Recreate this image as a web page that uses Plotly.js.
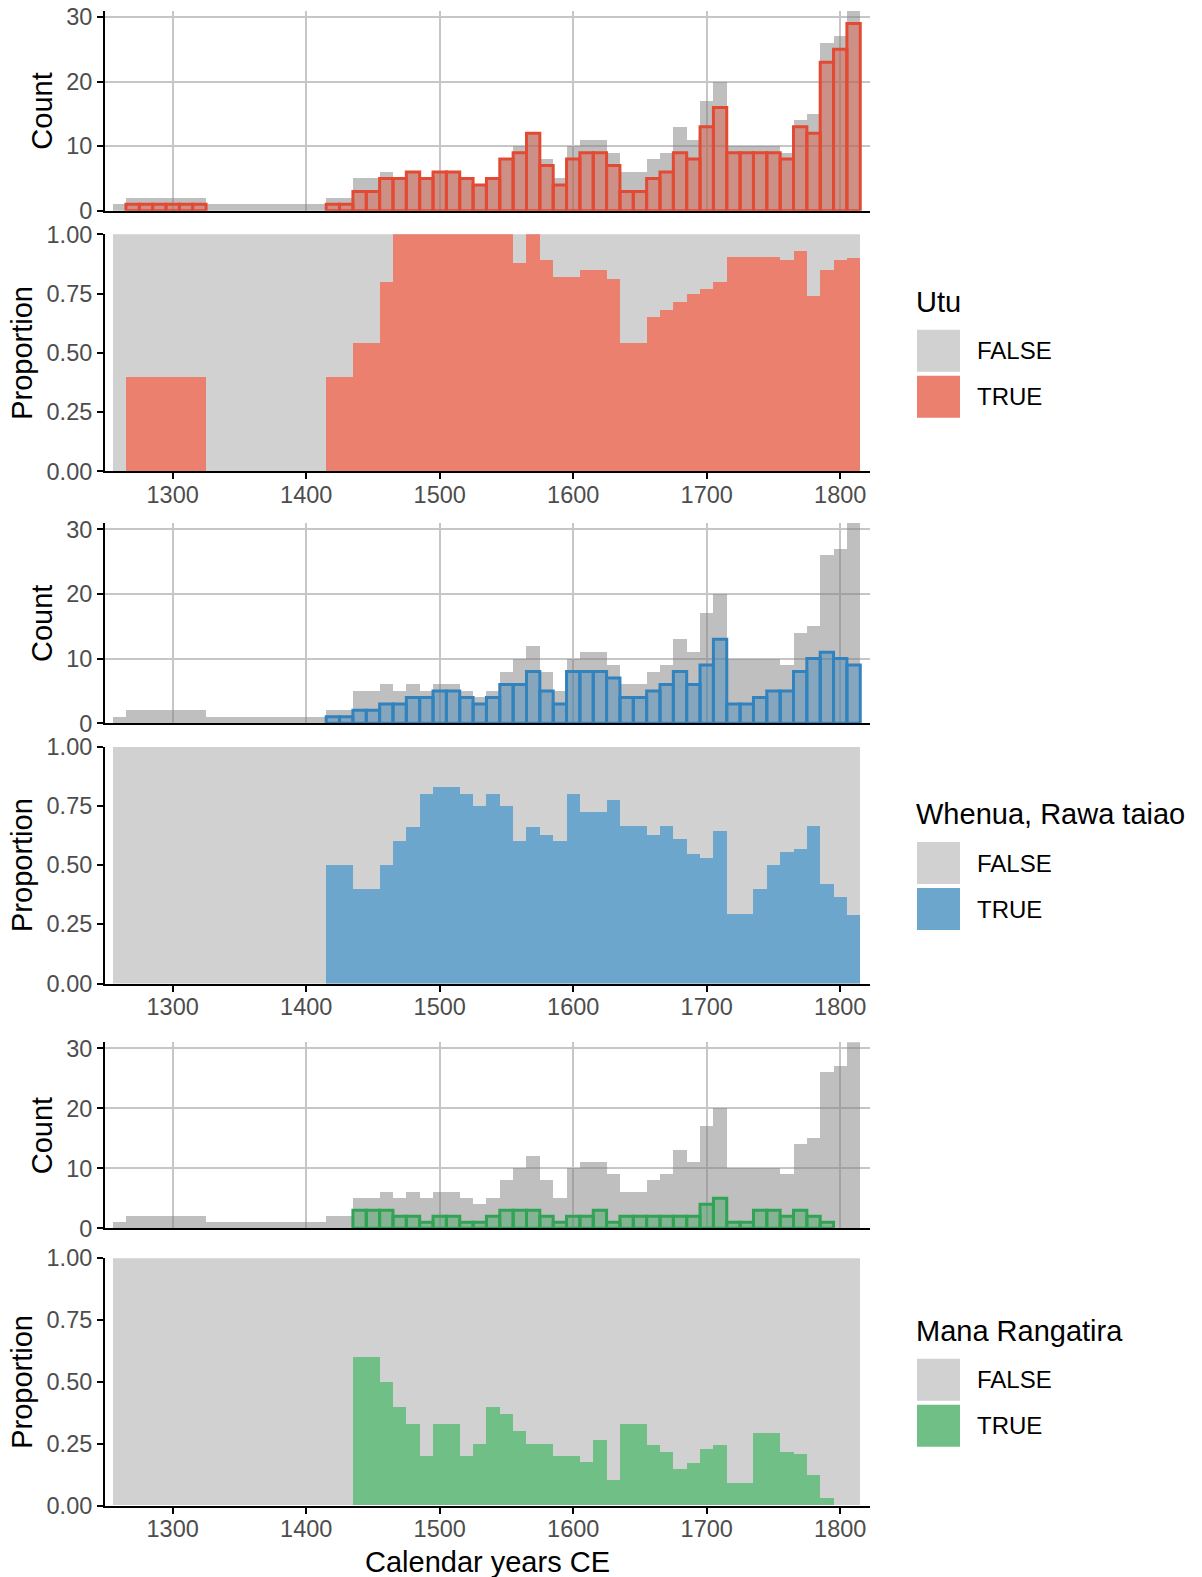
<!DOCTYPE html>
<html>
<head>
<meta charset="utf-8">
<script src="https://cdn.plot.ly/plotly-3.0.1.min.js"></script>
<style>html,body{margin:0;padding:0;background:#fff}</style>
</head>
<body>
<div id="chart" style="width:1202px;height:1577px"></div>
<script>
// 10-year bins, labelled by their centre year (bins run 1255-1815)
const binCentres = [1260,1270,1280,1290,1300,1310,1320,1330,1340,1350,1360,1370,1380,1390,1400,1410,
  1420,1430,1440,1450,1460,1470,1480,1490,1500,1510,1520,1530,1540,1550,1560,1570,1580,1590,1600,
  1610,1620,1630,1640,1650,1660,1670,1680,1690,1700,1710,1720,1730,1740,1750,1760,1770,1780,1790,1800,1810];

// all records per bin
const totalCount = [1,2,2,2,2,2,2,1,1,1,1,1,1,1,1,1,
  2,2,5,5,6,5,6,5,6,6,5,4,5,8,10,12,8,5,10,11,11,9,6,6,8,9,13,11,17,20,10,10,10,10,9,14,15,26,27,31];

// Utu
const utuTrue = [0,1,1,1,1,1,1,0,0,0,0,0,0,0,0,0,
  1,1,3,3,5,5,6,5,6,6,5,4,5,8,9,12,7,4,8,9,9,7,3,3,5,6,9,8,13,16,9,9,9,9,8,13,12,23,25,29];
const utuShare = [0,0.4,0.4,0.4,0.4,0.4,0.4,0,0,0,0,0,0,0,0,0,
  0.4,0.4,0.54,0.54,0.8,1,1,1,1,1,1,1,1,1,0.88,1,0.89,0.82,0.82,0.85,0.85,0.81,0.54,0.54,
  0.65,0.68,0.715,0.75,0.77,0.80,0.905,0.905,0.905,0.905,0.89,0.93,0.74,0.85,0.89,0.90];

// Whenua, Rawa taiao
const whenuaTrue = [0,0,0,0,0,0,0,0,0,0,0,0,0,0,0,0,
  1,1,2,2,3,3,4,4,5,5,4,3,4,6,6,8,5,3,8,8,8,7,4,4,5,6,8,6,9,13,3,3,4,5,5,8,10,11,10,9];
const whenuaShare = [0,0,0,0,0,0,0,0,0,0,0,0,0,0,0,0,
  0.5,0.5,0.4,0.4,0.5,0.6,0.66,0.8,0.83,0.83,0.8,0.75,0.8,0.75,0.6,0.66,0.625,0.6,0.8,0.725,0.725,
  0.776,0.664,0.664,0.625,0.664,0.61,0.545,0.53,0.645,0.295,0.295,0.397,0.498,0.554,0.568,0.664,
  0.418,0.367,0.288];

// Mana Rangatira
const manaTrue = [0,0,0,0,0,0,0,0,0,0,0,0,0,0,0,0,
  0,0,3,3,3,2,2,1,2,2,1,1,2,3,3,3,2,1,2,2,3,1,2,2,2,2,2,2,4,5,1,1,3,3,2,3,2,1,0,0];
const manaShare = [0,0,0,0,0,0,0,0,0,0,0,0,0,0,0,0,
  0,0,0.6,0.6,0.5,0.4,0.33,0.2,0.33,0.33,0.2,0.25,0.4,0.37,0.3,0.25,0.25,0.2,0.2,0.175,0.265,
  0.105,0.33,0.33,0.245,0.215,0.146,0.173,0.23,0.245,0.09,0.09,0.295,0.295,0.215,0.208,0.124,
  0.031,0,0];

const yearTicks = [1300,1400,1500,1600,1700,1800];
const countTicks = [0,10,20,30];
const shareTicks = [0,0.25,0.5,0.75,1];

const groups = [
  {name: 'Utu', counts: utuTrue, share: utuShare,
   line: '#E34A33', countFill: 'rgba(227,74,51,0.4)', shareFill: '#EB806F'},
  {name: 'Whenua, Rawa taiao', counts: whenuaTrue, share: whenuaShare,
   line: '#3182BD', countFill: 'rgba(49,130,189,0.4)', shareFill: '#6CA6CD'},
  {name: 'Mana Rangatira', counts: manaTrue, share: manaShare,
   line: '#31A354', countFill: 'rgba(49,163,84,0.4)', shareFill: '#6FBF86'}
];

// empty bins get no bar at all (no outline along the baseline)
const blankZero = arr => arr.map(v => (v === 0 ? null : v));

const W = 1202, H = 1577;
const px = v => v / W;
const py = v => 1 - v / H;

// panel boxes in pixels (top, bottom): count / share pairs
const boxes = [
  [[10.5, 210.8], [234.3, 471.3]],
  [[522.8, 723.3], [746.5, 983.5]],
  [[1042.3, 1228.3], [1258.2, 1505.5]]
];
const plotLeft = 105, plotRight = 870;
const xRange = [1249.3, 1822.3];

const FONT = 'Liberation Sans, Arial, sans-serif';
const tickFont = {family: FONT, size: 23.5, color: '#4D4D4D'};
const gridCol = '#C6C6C6';

const traces = [];
const layout = {
  width: W, height: H,
  margin: {l: 0, r: 0, t: 0, b: 0},
  paper_bgcolor: '#fff', plot_bgcolor: 'rgba(0,0,0,0)',
  barmode: 'overlay', bargap: 0,
  showlegend: false,
  font: {family: FONT},
  annotations: [], shapes: []
};

let k = 0;
groups.forEach((g, gi) => {
  const [cBox, sBox] = boxes[gi];

  // ---- count panel ----
  k += 1;
  const xa = 'x' + (k > 1 ? k : ''), ya = 'y' + (k > 1 ? k : '');
  traces.push({type: 'bar', x: binCentres, y: totalCount, width: 10, xaxis: xa, yaxis: ya,
    marker: {color: 'rgba(128,128,128,0.5)', line: {width: 0}}, hoverinfo: 'skip'});
  traces.push({type: 'bar', x: binCentres, y: blankZero(g.counts), width: 10, xaxis: xa, yaxis: ya,
    marker: {color: g.countFill, line: {color: g.line, width: 3}}, hoverinfo: 'skip'});
  layout['xaxis' + (k > 1 ? k : '')] = {
    domain: [px(plotLeft), px(plotRight)], anchor: ya, range: xRange,
    tickvals: yearTicks, showticklabels: false, ticks: '',
    showgrid: true, gridcolor: gridCol, gridwidth: 2, zeroline: false,
    showline: true, linecolor: '#000', linewidth: 2
  };
  layout['yaxis' + (k > 1 ? k : '')] = {
    domain: [py(cBox[1]), py(cBox[0])], anchor: xa, range: [0, 31],
    tickvals: countTicks, ticks: 'outside', ticklen: 6, tickwidth: 2, tickcolor: '#000',
    tickfont: tickFont, ticklabelstandoff: 0,
    showgrid: true, gridcolor: gridCol, gridwidth: 2, zeroline: false,
    showline: true, linecolor: '#000', linewidth: 2
  };
  layout.annotations.push({text: 'Count', xref: 'paper', yref: 'paper', x: px(42),
    y: py((cBox[0] + cBox[1]) / 2), textangle: -90, showarrow: false,
    xanchor: 'center', yanchor: 'middle', font: {family: FONT, size: 29, color: '#000'}});

  // ---- share panel ----
  k += 1;
  const xb = 'x' + k, yb = 'y' + k;
  traces.push({type: 'bar', x: binCentres, y: totalCount.map(v => (v > 0 ? 1 : null)), width: 10,
    xaxis: xb, yaxis: yb, marker: {color: '#D1D1D1', line: {width: 0}}, hoverinfo: 'skip'});
  traces.push({type: 'bar', x: binCentres, y: blankZero(g.share), width: 10, xaxis: xb, yaxis: yb,
    marker: {color: g.shareFill, line: {width: 0}}, hoverinfo: 'skip'});
  layout['xaxis' + k] = {
    domain: [px(plotLeft), px(plotRight)], anchor: yb, range: xRange,
    tickvals: yearTicks, ticks: 'outside', ticklen: 6, tickwidth: 2, tickcolor: '#000',
    tickfont: tickFont, ticklabelstandoff: -5,
    showgrid: false, zeroline: false, showline: true, linecolor: '#000', linewidth: 2
  };
  layout['yaxis' + k] = {
    domain: [py(sBox[1]), py(sBox[0])], anchor: xb, range: [0, 1],
    tickvals: shareTicks, tickformat: '.2f', ticks: 'outside', ticklen: 6, tickwidth: 2,
    tickcolor: '#000', tickfont: tickFont, ticklabelstandoff: 0,
    showgrid: false, zeroline: false, showline: true, linecolor: '#000', linewidth: 2
  };
  layout.annotations.push({text: 'Proportion', xref: 'paper', yref: 'paper', x: px(22),
    y: py((sBox[0] + sBox[1]) / 2), textangle: -90, showarrow: false,
    xanchor: 'center', yanchor: 'middle', font: {family: FONT, size: 29, color: '#000'}});

  // ---- legend block, centred on the share panel ----
  const c = (sBox[0] + sBox[1]) / 2;
  layout.annotations.push({text: g.name, xref: 'paper', yref: 'paper', x: px(914), y: py(c - 51),
    xanchor: 'left', yanchor: 'middle', showarrow: false,
    font: {family: FONT, size: 29, color: '#000'}});
  [['FALSE', '#D1D1D1', c - 23], ['TRUE', g.shareFill, c + 23]].forEach(([lab, col, top]) => {
    layout.shapes.push({type: 'rect', xref: 'paper', yref: 'paper',
      x0: px(917), x1: px(960), y0: py(top + 42), y1: py(top), fillcolor: col, line: {width: 0}});
    layout.annotations.push({text: lab, xref: 'paper', yref: 'paper', x: px(975), y: py(top + 21),
      xanchor: 'left', yanchor: 'middle', showarrow: false,
      font: {family: FONT, size: 24, color: '#000'}});
  });
});

layout.annotations.push({text: 'Calendar years CE', xref: 'paper', yref: 'paper',
  x: px((plotLeft + plotRight) / 2), y: py(1562), xanchor: 'center', yanchor: 'middle',
  showarrow: false, font: {family: FONT, size: 29, color: '#000'}});

Plotly.newPlot('chart', traces, layout, {staticPlot: true, displayModeBar: false});
</script>
</body>
</html>
